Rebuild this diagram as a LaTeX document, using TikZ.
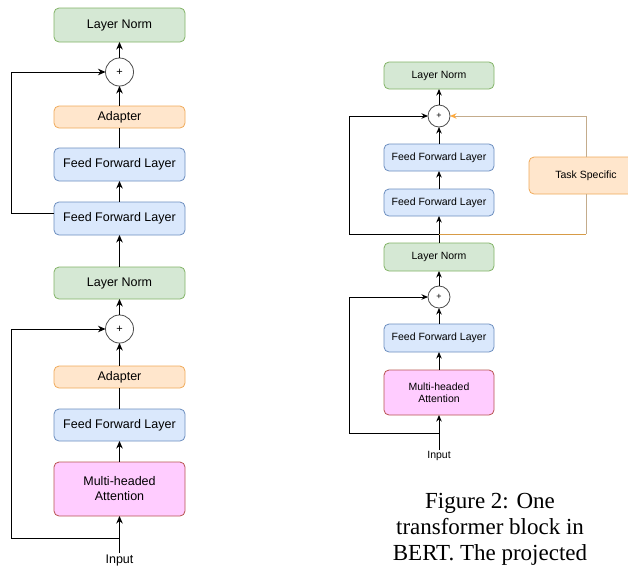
\documentclass[tikz,border=0pt]{standalone}
\usepackage{fontspec}
\setmainfont{Liberation Serif}
\setsansfont{Liberation Sans}
\usetikzlibrary{arrows.meta,positioning}
\definecolor{lnfill}{RGB}{213,232,212}
\definecolor{lnline}{RGB}{130,179,102}
\definecolor{fffill}{RGB}{218,232,252}
\definecolor{ffline}{RGB}{108,142,191}
\definecolor{adfill}{RGB}{255,230,204}
\definecolor{adline}{RGB}{240,170,90}
\definecolor{mhafill}{RGB}{255,204,255}
\definecolor{mhaline}{RGB}{184,84,80}
\definecolor{tanline}{RGB}{196,172,140}
\definecolor{taskline}{RGB}{215,155,70}
\definecolor{tiporange}{RGB}{255,170,60}

\begin{document}
\begin{tikzpicture}[
  x=1pt, y=-1pt,
  base/.style={draw, rounded corners=5pt, align=center, inner sep=0pt, outer sep=0pt, line width=0.8pt, font=\sffamily\fontsize{12.5}{15}\selectfont},
  lnbox/.style={base, fill=lnfill, draw=lnline},
  ffbox/.style={base, fill=fffill, draw=ffline},
  adbox/.style={base, fill=adfill, draw=adline},
  mhabox/.style={base, fill=mhafill, draw=mhaline},
  plus/.style={draw=black!70, circle, fill=white, inner sep=0pt, outer sep=0pt, line width=0.8pt, font=\sffamily\fontsize{11}{11}\selectfont},
  big/.style={minimum width=131pt},
  small/.style={minimum width=110pt, font=\sffamily\fontsize{10.5}{12.5}\selectfont},
  lbl/.style={inner sep=1pt, font=\sffamily\fontsize{12.5}{15}\selectfont},
  arr/.style={-{Stealth[length=7.5pt,width=6.5pt]}, line width=0.9pt},
  sarr/.style={-{Stealth[length=6.5pt,width=5.5pt]}, line width=0.9pt},
  link/.style={line width=0.9pt}
]
\useasboundingbox (0,0) rectangle (628,568);
\clip (0,0) rectangle (628,568);

% left block: adapter layout
\node[mhabox, big, minimum height=54pt] (mhaL) at (119.5,489) {Multi-headed\\Attention};
\node[ffbox, big, minimum height=32pt, above=21pt of mhaL] (ffL) {Feed Forward Layer};
\node[adbox, big, minimum height=22pt, above=21pt of ffL] (adL) {Adapter};
\node[plus, minimum size=28pt, above=23pt of adL] (plusL) {+};
\node[lnbox, big, minimum height=32pt, above=16pt of plusL] (lnL) {Layer Norm};
\node[ffbox, big, minimum height=33pt, above=32pt of lnL] (ffL2) {Feed Forward Layer};
\node[ffbox, big, minimum height=33pt, above=21pt of ffL2] (ffL1) {Feed Forward Layer};
\node[adbox, big, minimum height=22pt, above=20pt of ffL1] (adL2) {Adapter};
\node[plus, minimum size=28pt, above=20pt of adL2] (plusL2) {+};
\node[lnbox, big, minimum height=34pt, above=16pt of plusL2] (lnL2) {Layer Norm};
\node[lbl] (inL) at (119.5,560) {Input};
\coordinate (brL) at (119.5,538);

\draw[arr] (inL) -- (mhaL);
\draw[arr] (mhaL) -- (ffL);
\draw[link] (ffL) -- (adL);
\draw[arr] (adL) -- (plusL);
\draw[arr] (plusL) -- (lnL);
\draw[arr] (lnL) -- (ffL2);
\draw[arr] (ffL2) -- (ffL1);
\draw[link] (ffL1) -- (adL2);
\draw[arr] (adL2) -- (plusL2);
\draw[arr] (plusL2) -- (lnL2);
\draw[arr] (brL) -- (11,538) |- (plusL.west);
\draw[arr] ([yshift=5pt]ffL2.west) -- ++(-43,0) |- (plusL2.west);

% right block: BERT with task specific branch
\node[mhabox, small, minimum height=45pt] (mhaR) at (439,392.5) {Multi-headed\\Attention};
\node[ffbox, small, minimum height=28pt, above=18pt of mhaR] (ffR) {Feed Forward Layer};
\node[plus, minimum size=22pt, font=\sffamily\fontsize{9}{9}\selectfont, above=16pt of ffR] (plusR) {+};
\node[lnbox, small, minimum height=28pt, above=15pt of plusR] (lnR) {Layer Norm};
\node[ffbox, small, minimum height=27pt, above=27pt of lnR] (ffR2) {Feed Forward Layer};
\node[ffbox, small, minimum height=27pt, above=18pt of ffR2] (ffR1) {Feed Forward Layer};
\node[plus, minimum size=22pt, font=\sffamily\fontsize{9}{9}\selectfont, above=17pt of ffR1] (plusR2) {+};
\node[lnbox, small, minimum height=27pt, above=16pt of plusR2] (lnR2) {Layer Norm};
\node[adbox, minimum width=114pt, minimum height=37pt, font=\sffamily\fontsize{10.5}{12.5}\selectfont] (task) at (586,175.5) {Task Specific};
\node[lbl, font=\sffamily\fontsize{10.5}{12.5}\selectfont] (inR) at (439,456) {Input};
\coordinate (brR) at (439,433);
\coordinate (brR2) at (439,234);

\draw[sarr] (inR) -- (mhaR);
\draw[sarr] (mhaR) -- (ffR);
\draw[sarr] (ffR) -- (plusR);
\draw[sarr] (plusR) -- (lnR);
\draw[sarr] (lnR) -- (ffR2);
\draw[sarr] (ffR2) -- (ffR1);
\draw[sarr] (ffR1) -- (plusR2);
\draw[sarr] (plusR2) -- (lnR2);
\draw[sarr] (brR) -- (349,433) |- (plusR.west);
\draw[sarr] (brR2) -- (349,234) |- (plusR2.west);
\draw[link, taskline] (brR2) -- (586,234);
\draw[link, tanline] (586,234) -- (task);
\draw[link, tanline, -{Stealth[length=6.5pt,width=5.5pt,color=tiporange]}] (task) -- (586,116) -- (plusR2.east);

% caption
\node[align=center, inner sep=0pt, font=\fontsize{23}{26}\selectfont] (cap) at (490,529) {Figure 2: One\\transformer block in\\BERT. The projected};
\end{tikzpicture}
\end{document}
